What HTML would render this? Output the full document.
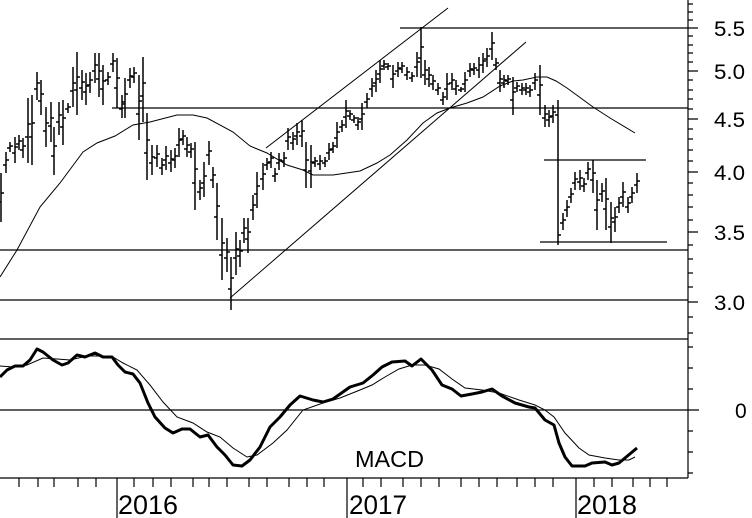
<!DOCTYPE html>
<html><head><meta charset="utf-8"><style>
html,body{margin:0;padding:0;background:#fff;}
svg{display:block;}
text{font-family:"Liberation Sans",Arial,sans-serif;fill:#000;}
</style></head><body>
<svg width="752" height="518" viewBox="0 0 752 518" xmlns="http://www.w3.org/2000/svg">
<rect width="752" height="518" fill="#fff"/>
<!-- horizontal reference lines -->
<g stroke="#000" stroke-width="1.3" fill="none">
<path d="M400 28H688M112 108H688M0 250H688M0 300H688M0 339H688M0 410H699M544 160H646M540 242H667"/>
</g>
<!-- trend lines -->
<g stroke="#000" stroke-width="1" fill="none">
<path d="M266 148L448 8M230 298L526 42"/>
<polyline points="0,277 17,250 40,207 60,183 83,152 97,143 115,136 133,125 150,122 177,115 193,115 207,118 233,132 250,146 267,153 287,165 303,170 313,175 333,175 360,171 377,163 390,155 407,140 423,123 437,113 450,108 467,103 483,97 500,86 513,81 523,80 537,77 547,77 556,81 567,88 593,107 610,118 635,133"/>
</g>
<!-- price bars -->
<path stroke="#000" stroke-width="1.5" fill="none" d="M1 173V222M-2 202H1M1 193H4M6 152V173M3 165H6M6 160H9M10 142V152M7 148H10M10 146H13M15 137V163M12 153H15M15 147H18M19 135V150M16 144H19M19 141H22M23 138V158M20 150H23M23 146H26M28 98V163M25 137H28M28 124H31M32 95V165M29 137H32M32 123H35M37 72V100M34 89H37M37 83H40M41 80V115M38 101H41M41 94H44M46 107V147M43 131H46M46 123H49M51 102V142M48 126H51M51 118H54M54 127V175M51 156H54M54 146H57M59 102V135M56 122H59M59 115H62M63 100V145M60 127H63M63 118H66M68 103V113M65 109H68M68 107H71M73 67V107M70 91H73M73 83H76M77 52V115M74 90H77M77 77H80M82 70V100M79 88H82M82 82H85M86 73V105M83 92H86M86 86H89M90 72V93M87 85H90M90 80H93M95 53V83M92 71H95M95 65H98M99 53V97M96 79H99M99 71H102M103 65V105M100 89H103M103 81H106M108 72V85M105 80H108M108 77H111M113 53V72M110 64H113M113 61H116M117 58V108M114 88H117M117 78H120M122 95V118M119 109H122M122 104H125M125 78V118M122 102H125M125 94H128M130 68V88M127 80H130M130 76H133M134 67V83M131 77H134M134 73H137M139 75V140M136 114H139M139 101H142M143 57V122M140 96H143M143 83H146M147 113V180M144 153H147M147 140H150M152 145V175M149 163H152M152 157H155M157 145V167M154 158H157M157 154H160M162 158V175M159 168H162M162 165H165M166 146V170M163 160H166M166 156H169M171 150V172M168 163H171M171 159H174M175 148V168M172 160H175M175 156H178M179 128V157M176 145H179M179 140H182M183 130V145M180 139H183M183 136H186M187 137V157M184 149H187M187 145H190M191 143V158M188 152H191M191 149H194M195 142V210M192 183H195M195 169H198M200 180V200M197 192H200M200 188H203M204 162V197M201 183H204M204 176H207M209 141V165M206 155H209M209 151H212M213 167V188M210 180H213M213 175H216M217 183V240M214 217H217M217 206H220M222 218V280M219 255H222M222 243H225M227 238V272M224 258H227M227 252H230M231 257V310M228 289H231M231 278H234M236 232V275M233 258H236M236 249H239M240 240V267M237 256H240M240 251H243M244 218V243M241 233H244M244 228H247M248 218V253M245 239H248M248 232H251M253 195V220M250 210H253M253 205H256M257 172V208M254 194H257M257 186H260M263 163V190M260 179H263M263 174H266M267 158V170M264 165H267M267 163H270M271 152V168M268 162H271M271 158H274M275 168V182M272 176H275M275 174H278M279 153V170M276 163H279M279 160H282M284 152V167M281 161H284M284 158H287M288 128V150M285 141H288M288 137H291M293 132V150M290 143H293M293 139H296M297 123V145M294 136H297M297 132H300M302 120V147M299 136H302M302 131H305M306 142V188M303 170H306M306 160H309M311 145V188M308 171H311M311 162H314M315 157V167M312 163H315M315 161H318M320 155V170M317 164H320M320 161H323M325 157V167M322 163H325M325 161H328M329 143V160M326 153H329M329 150H332M333 142V153M330 149H333M333 146H336M337 122V148M334 138H337M337 132H340M342 120V132M339 127H342M342 125H345M346 100V128M343 117H346M346 111H349M350 110V120M347 116H350M350 114H353M354 115V123M351 120H354M354 118H357M358 117V130M355 125H358M358 122H361M362 103V130M359 119H362M362 114H365M367 93V108M364 102H367M367 99H370M372 78V97M369 89H372M372 86H375M376 70V92M373 83H376M376 79H379M380 60V83M377 74H380M380 69H383M384 60V70M381 66H384M384 64H387M388 63V70M385 67H388M388 66H391M393 65V88M390 79H393M393 74H396M398 62V77M395 71H398M398 68H401M402 62V73M399 69H402M402 66H405M407 67V80M404 75H407M407 72H410M412 72V82M409 78H412M412 76H415M417 52V77M414 67H417M417 62H420M421 27V78M418 58H421M421 47H424M425 60V85M422 75H425M425 70H428M429 67V87M426 79H429M429 75H432M433 75V90M430 84H433M433 81H436M438 83V95M435 90H438M438 88H441M443 92V105M440 100H443M443 97H446M447 73V100M444 89H447M447 84H450M452 73V90M449 83H452M452 80H455M456 80V95M453 89H456M456 86H459M461 87V92M458 90H461M461 89H464M465 72V92M462 84H465M465 80H468M470 63V77M467 71H470M470 69H473M474 63V75M471 70H474M474 68H477M479 57V78M476 70H479M479 65H482M483 53V73M480 65H483M483 61H486M487 48V67M484 59H487M487 56H490M492 32V60M489 49H492M492 43H495M496 58V70M493 65H496M496 63H499M500 70V92M497 83H500M500 79H503M504 75V88M501 83H504M504 80H507M508 75V85M505 81H508M508 79H511M513 77V115M510 100H513M513 92H516M517 82V92M514 88H517M517 86H520M522 83V95M519 90H522M522 88H525M526 83V95M523 90H526M526 88H529M530 85V97M527 92H530M530 90H533M535 73V90M532 83H535M535 80H538M540 65V115M537 95H540M540 85H543M545 105V127M542 118H545M545 114H548M549 110V127M546 120H549M549 117H552M553 105V123M550 116H553M553 112H556M558 100V245M555 115H558M558 235H561M563 213V230M560 223H563M563 220H566M567 200V217M564 210H567M567 207H570M571 188V203M568 197H571M571 194H574M575 172V190M572 183H575M575 179H578M580 170V190M577 182H580M580 178H583M584 178V192M581 186H584M584 184H587M588 162V180M585 173H588M588 169H591M593 160V193M590 180H593M593 173H596M597 180V230M594 210H597M597 200H600M602 183V202M599 194H602M602 191H605M606 178V230M603 209H606M606 199H609M611 202V243M608 227H611M611 218H614M615 207V232M612 222H615M615 217H618M619 197V213M616 207H619M619 203H622M623 182V207M620 197H623M623 192H626M628 197V213M625 207H628M628 203H631M632 187V203M629 197H632M632 193H635M637 173V193M634 185H637M637 181H640"/>
<!-- MACD -->
<polyline fill="none" stroke="#000" stroke-width="1" points="0,366 13,367 27,365 43,358 57,359 70,360 87,356 103,356 113,357 123,363 137,370 150,385 163,402 177,417 193,423 207,432 220,437 233,448 247,457 257,455 273,443 287,430 303,410 323,403 340,398 360,390 372,385 385,377 399,369 412,365 425,365 439,369 452,379 465,388 482,390 499,393 519,400 535,405 545,410 554,417 565,433 579,448 589,455 605,458 619,460 629,460 635,457"/>
<polyline fill="none" stroke="#000" stroke-width="3" stroke-linejoin="round" points="0,377 7,370 15,366 23,366 30,360 37,349 43,352 53,360 62,365 68,363 77,355 85,357 95,353 103,357 112,357 118,365 125,372 133,374 140,383 148,403 155,417 165,428 173,433 182,429 190,429 200,437 208,435 217,447 225,455 233,465 242,466 250,460 260,447 270,427 280,417 290,405 300,396 313,400 323,402 333,399 350,387 363,383 373,375 382,367 392,362 405,361 412,366 421,359 432,370 442,385 452,389 461,396 472,394 482,392 492,389 502,396 515,403 529,407 535,408 545,420 554,425 559,443 565,457 572,466 585,466 592,463 605,462 612,465 619,463 625,458 637,448"/>
<!-- axes -->
<g stroke="#000" stroke-width="1.2" fill="none">
<path d="M688 0V478M0 478H688"/>
<path d="M688 4H693M688 12H693M688 20H693M688 36H693M688 45H693M688 53H693M688 62H693M688 80H693M688 90H693M688 99H693M688 109H693M688 129H693M688 139H693M688 150H693M688 161H693M688 183H693M688 195H693M688 207H693M688 220H693M688 245H693M688 259H693M688 273H693M688 287H693M688 317H693M688 333H693"/>
<path d="M688 28H698M688 71H698M688 119H698M688 172H698M688 232H698M688 302H698"/>
<path d="M688 347H693M688 368H693M688 389H693M688 431H693M688 452H693M688 473H693"/>
<path d="M19 478V487M38 478V487M54 478V487M78 478V487M96 478V487M134 478V487M153 478V487M171 478V487M193 478V487M209 478V487M227 478V487M249 478V487M267 478V487M289 478V487M307 478V487M324 478V487M363 478V487M381 478V487M403 478V487M421 478V487M439 478V487M461 478V487M479 478V487M497 478V487M517 478V487M535 478V487M553 478V487M594 478V487M612 478V487M633 478V487M650 478V487M667 478V487"/>
<path d="M117 478V518M347 478V518M576 478V518"/>
</g>
<!-- labels -->
<g font-size="21">
<text x="714" y="36" textLength="31" lengthAdjust="spacingAndGlyphs">5.5</text>
<text x="714" y="79" textLength="31" lengthAdjust="spacingAndGlyphs">5.0</text>
<text x="714" y="127" textLength="31" lengthAdjust="spacingAndGlyphs">4.5</text>
<text x="714" y="180" textLength="31" lengthAdjust="spacingAndGlyphs">4.0</text>
<text x="714" y="240" textLength="31" lengthAdjust="spacingAndGlyphs">3.5</text>
<text x="714" y="310" textLength="31" lengthAdjust="spacingAndGlyphs">3.0</text>
<text x="735" y="418">0</text>
</g>
<text x="355" y="467" font-size="23" textLength="69" lengthAdjust="spacingAndGlyphs">MACD</text>
<g font-size="27">
<text x="118" y="514" textLength="60" lengthAdjust="spacingAndGlyphs">2016</text>
<text x="349" y="514" textLength="58" lengthAdjust="spacingAndGlyphs">2017</text>
<text x="577" y="514" textLength="60" lengthAdjust="spacingAndGlyphs">2018</text>
</g>
</svg>
</body></html>
